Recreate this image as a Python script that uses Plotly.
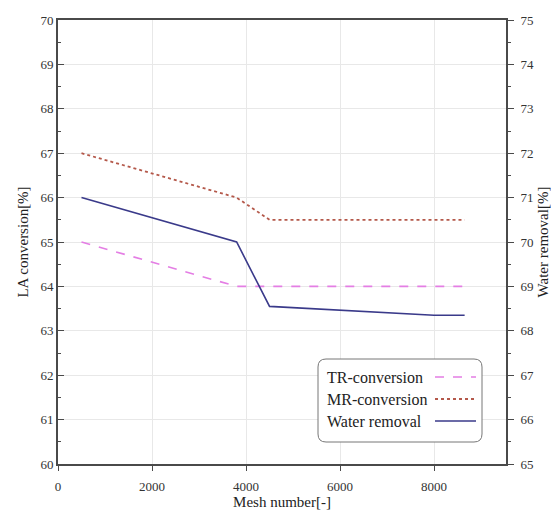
import plotly.graph_objects as go

mesh = [500, 3800, 4500, 8000, 8650]
tr_conv = [65.0, 64.0, 64.0, 64.0, 64.0]
mr_conv = [67.0, 66.0, 65.5, 65.5, 65.5]
water_removal = [71.0, 70.0, 68.55, 68.35, 68.35]

names = ["TR-conversion", "MR-conversion", "Water removal"]
colors = ["#e47ee4", "#b4584a", "#3a3a8a"]
dashes = ["dash", "dot", "solid"]
widths = [1.6, 1.8, 1.6]

FONT = "Liberation Serif"
AX = "#4a4a4a"

fig = go.Figure()
fig.add_trace(go.Scatter(x=mesh, y=tr_conv, mode="lines", name=names[0],
                         line=dict(color=colors[0], dash=dashes[0], width=widths[0]), yaxis="y"))
fig.add_trace(go.Scatter(x=mesh, y=mr_conv, mode="lines", name=names[1],
                         line=dict(color=colors[1], dash=dashes[1], width=widths[1]), yaxis="y"))
fig.add_trace(go.Scatter(x=mesh, y=water_removal, mode="lines", name=names[2],
                         line=dict(color=colors[2], dash=dashes[2], width=widths[2]), yaxis="y2"))

OFF = 8  # page body margin
W, H = 559 - OFF, 511 - OFF
L, R, T, B = 58 - OFF, 53, 20 - OFF, 47
pw, ph = W - L - R, H - T - B

def px(x):
    return (x - OFF - L) / pw

def py(y):
    return (H - B - (y - OFF)) / ph

# custom legend (text left, sample right) in a rounded box
x0, x1, y0, y1 = px(318), px(482), py(442), py(359)
r = 8
rx, ry = r / pw, r / ph
path = (f"M {x0+rx},{y1} L {x1-rx},{y1} Q {x1},{y1} {x1},{y1-ry} "
        f"L {x1},{y0+ry} Q {x1},{y0} {x1-rx},{y0} L {x0+rx},{y0} "
        f"Q {x0},{y0} {x0},{y0+ry} L {x0},{y1-ry} Q {x0},{y1} {x0+rx},{y1} Z")
fig.add_shape(type="path", path=path, xref="paper", yref="paper",
              line=dict(color="#777777", width=1), fillcolor="white", layer="above")
rows = [377, 399, 421]
for i, yy in enumerate(rows):
    fig.add_annotation(x=px(325), y=py(yy), xref="paper", yref="paper", text=names[i],
                       showarrow=False, xanchor="left", yanchor="middle",
                       font=dict(family=FONT, size=16, color="#222222"))
    fig.add_shape(type="line", xref="paper", yref="paper", x0=px(435), x1=px(476),
                  y0=py(yy), y1=py(yy), layer="above",
                  line=dict(color=colors[i], dash=dashes[i], width=widths[i]))

TICKF = dict(family=FONT, size=13, color="#333333")
TITLEF = dict(family=FONT, size=15, color="#222222")

fig.update_layout(
    template="none",
    width=W, height=H,
    margin=dict(l=L, r=R, t=T, b=B, autoexpand=False),
    paper_bgcolor="white", plot_bgcolor="white",
    showlegend=False,
    font=dict(family=FONT, size=13, color="#333333"),
    xaxis=dict(range=[0, 9530], dtick=2000, tick0=0, showgrid=True, gridcolor="#e8e8e8",
               gridwidth=1, zeroline=False, showline=True, linecolor=AX, linewidth=2, mirror=True,
               ticks="outside", ticklen=5, tickcolor=AX, tickfont=TICKF, ticklabelstandoff=4,
               title=dict(text="Mesh number[-]", font=TITLEF, standoff=0)),
    yaxis=dict(range=[60, 70], dtick=1, showgrid=True, gridcolor="#e8e8e8", gridwidth=1,
               zeroline=False,
               showline=True, linecolor=AX, linewidth=2, ticks="inside", ticklen=6, tickcolor=AX,
               tickfont=TICKF,
               minor=dict(dtick=0.5, ticks="inside", ticklen=3, tickcolor=AX, showgrid=False),
               title=dict(text="LA conversion[%]", font=TITLEF, standoff=8)),
    yaxis2=dict(range=[65, 75], dtick=1, overlaying="y", side="right", showgrid=False,
                zeroline=False, showline=True, linecolor=AX, linewidth=2,
                ticks="outside", ticklen=6, tickcolor=AX, tickfont=TICKF, ticklabelstandoff=4,
                minor=dict(dtick=0.5, ticks="outside", ticklen=3, tickcolor=AX, showgrid=False),
                title=dict(text="Water removal[%]", font=TITLEF, standoff=4)),
)

fig.write_html("out.html")
